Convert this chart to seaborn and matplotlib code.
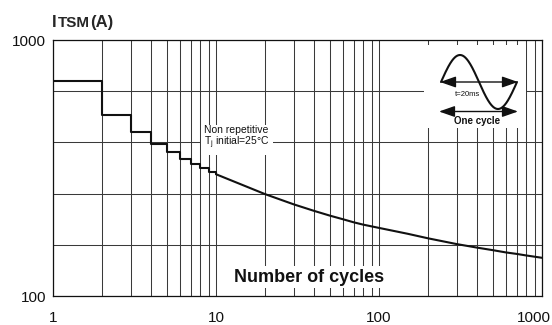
import numpy as np
import pandas as pd
import matplotlib
matplotlib.use('Agg')
import matplotlib.pyplot as plt
import seaborn as sns
from matplotlib.patches import Rectangle
from matplotlib.ticker import FixedLocator, NullFormatter, LogLocator

# ---- data ----
step_cycles = [1, 2, 3, 4, 5, 6, 7, 8, 9, 10]
step_itsm = [692, 508, 436, 392, 366, 343, 328, 315, 306, 299]
curve_cycles = [10, 20, 30, 40, 50, 60, 70, 80, 100, 150, 200, 300, 400, 500, 600, 700, 800, 1000]
curve_itsm = [299, 250, 228, 215, 206, 199.5, 194, 190, 184.5, 175, 168, 159.5, 154.5, 151, 148, 146, 144, 141]
x_ticks = [1, 10, 100, 1000]
x_tick_labels = ['1', '10', '100', '']
y_ticks = [100, 1000]
y_tick_labels = ['100', '1000']
y_grid = [158.5, 251.2, 398.1, 631.0]

sns.set_style('white')
plt.rcParams['font.family'] = ['Liberation Sans', 'DejaVu Sans']
plt.rcParams['mathtext.default'] = 'regular'

W, H = 552, 325
L, R, T, B = 53, 542, 40, 296
fig = plt.figure(figsize=(W / 100, H / 100), dpi=100)
ax = fig.add_axes([L / W, 1 - B / H, (R - L) / W, (B - T) / H])


def px(x, y):
    return ((x - L) / (R - L), (B - y) / (B - T))


step_df = pd.DataFrame({'cycles': step_cycles, 'itsm': step_itsm})
curve_df = pd.DataFrame({'cycles': curve_cycles, 'itsm': curve_itsm})
sns.lineplot(data=step_df, x='cycles', y='itsm', drawstyle='steps-post',
             color='#111111', lw=1.5, ax=ax, zorder=5)
sns.lineplot(data=curve_df, x='cycles', y='itsm', color='#111111', lw=1.5,
             ax=ax, zorder=5)

ax.set_xscale('log')
ax.set_yscale('log')
ax.set_xlim(1, 1000)
ax.set_ylim(100, 1000)
ax.set_xlabel('')
ax.set_ylabel('')

ax.xaxis.set_major_locator(FixedLocator(x_ticks))
ax.set_xticklabels(x_tick_labels)
ax.xaxis.set_minor_locator(LogLocator(base=10, subs=np.arange(2, 10)))
ax.xaxis.set_minor_formatter(NullFormatter())
ax.yaxis.set_major_locator(FixedLocator(y_ticks))
ax.set_yticklabels(y_tick_labels)
ax.yaxis.set_minor_locator(FixedLocator(y_grid))
ax.yaxis.set_minor_formatter(NullFormatter())

ax.grid(True, which='both', color='#3a3a3a', lw=0.75)
ax.set_axisbelow(True)
ax.tick_params(axis='both', which='both', length=0, labelsize=11, colors='#111111')
ax.tick_params(axis='x', pad=11)
ax.tick_params(axis='y', pad=5)
for s in ax.spines.values():
    s.set_color('#111111')
    s.set_linewidth(0.9)

# last x label shifted to fit in the image
ax.annotate('1000', xy=(1000, 0), xycoords=('data', 'axes fraction'),
            xytext=(-8, -15), textcoords='offset pixels', ha='center', va='top',
            fontsize=11, color='#111111')

# y axis title
fig.text(52 / W, 1 - 27 / H, 'I', fontsize=12, fontweight='bold', va='baseline', ha='left')
fig.text(57.5 / W, 1 - 27 / H, 'TSM', fontsize=11, fontweight='bold', va='baseline', ha='left')
fig.text(90.5 / W, 1 - 27 / H, '(A)', fontsize=12, fontweight='bold', va='baseline', ha='left')

# annotations
ax.text(*px(204, 138), 'Non repetitive\n$T_j$ initial=25°C', transform=ax.transAxes,
        fontsize=7.5, ha='left', va='center', linespacing=1.05, color='#111111',
        bbox=dict(facecolor='white', edgecolor='none', pad=2.5), zorder=4)
ax.text(*px(309, 277), 'Number of cycles', transform=ax.transAxes, fontsize=13,
        fontweight='bold', ha='center', va='center', color='#111111',
        bbox=dict(facecolor='white', edgecolor='none', pad=2), zorder=4)

# inset: one cycle illustration
x0, y0 = px(424, 128)
x1, y1 = px(526, 45)
ax.add_patch(Rectangle((x0, y0), x1 - x0, y1 - y0, transform=ax.transAxes,
                       facecolor='white', edgecolor='none', zorder=3))
t = np.linspace(0, 1, 200)
sx = 441 + 76 * t
sy = 82 - 27 * np.sin(2 * np.pi * t)
pts = np.array([px(a, b) for a, b in zip(sx, sy)])
ax.plot(pts[:, 0], pts[:, 1], transform=ax.transAxes, color='#111111', lw=1.5, zorder=6)
arrow = dict(arrowstyle='<|-|>,head_length=0.8,head_width=0.28', color='#111111',
             lw=1.0, mutation_scale=12, shrinkA=0, shrinkB=0)
ax.annotate('', xy=px(518, 82), xytext=px(440, 82), xycoords='axes fraction',
            textcoords='axes fraction', arrowprops=arrow, zorder=6)
ax.annotate('', xy=px(518, 111.5), xytext=px(439, 111.5), xycoords='axes fraction',
            textcoords='axes fraction', arrowprops=arrow, zorder=6)
ax.text(*px(455, 94), 't=20ms', transform=ax.transAxes, fontsize=5.5,
        ha='left', va='center', color='#111111', zorder=6)
ax.text(*px(477, 120.5), 'One cycle', transform=ax.transAxes, fontsize=7,
        fontweight='bold', ha='center', va='center', color='#111111', zorder=6)

fig.savefig('out.png', dpi=100)
